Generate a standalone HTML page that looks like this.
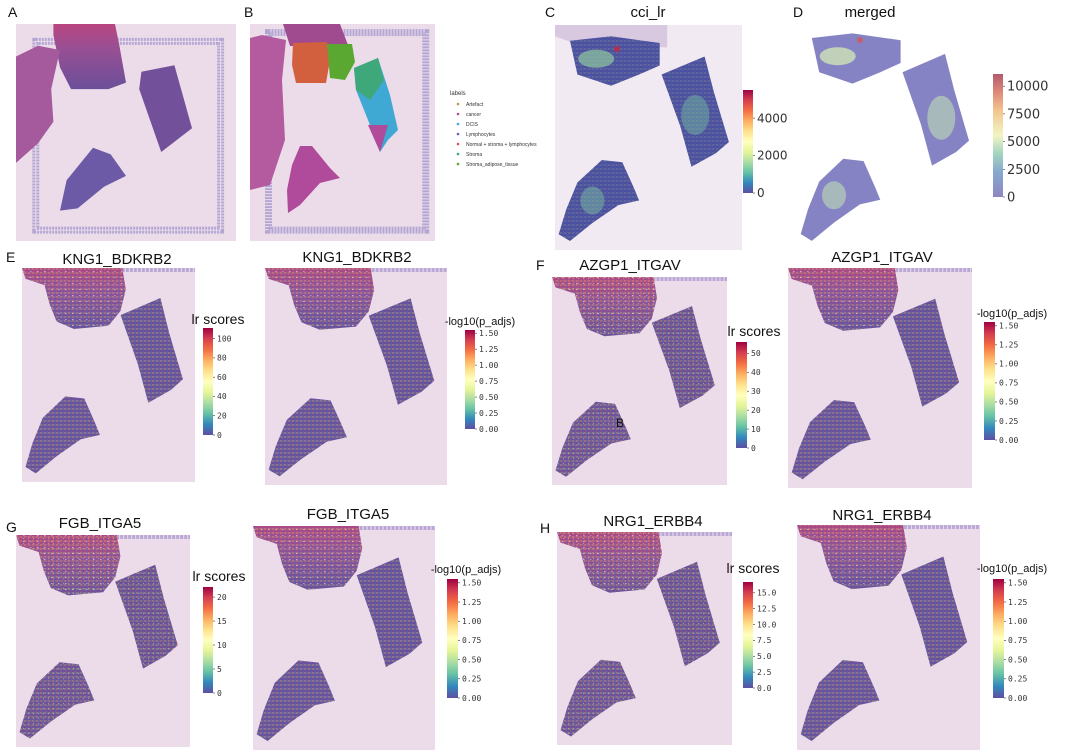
<!DOCTYPE html>
<html><head><meta charset="utf-8"><style>
html,body{margin:0;padding:0;background:#fff;}
svg{display:block;font-family:"Liberation Sans","DejaVu Sans",sans-serif;}
</style></head><body>
<svg id="fig" width="1065" height="754" viewBox="0 0 1065 754" xmlns="http://www.w3.org/2000/svg">
<defs>
<linearGradient id="spec" x1="0" y1="1" x2="0" y2="0">
<stop offset="0" stop-color="#5e4fa2"/><stop offset="0.1" stop-color="#3288bd"/><stop offset="0.2" stop-color="#66c2a5"/><stop offset="0.3" stop-color="#abdda4"/><stop offset="0.4" stop-color="#e6f598"/><stop offset="0.5" stop-color="#ffffbf"/><stop offset="0.6" stop-color="#fee08b"/><stop offset="0.7" stop-color="#fdae61"/><stop offset="0.8" stop-color="#f46d43"/><stop offset="0.9" stop-color="#d53e4f"/><stop offset="1" stop-color="#9e0142"/>
</linearGradient>
<linearGradient id="specL" x1="0" y1="1" x2="0" y2="0">
<stop offset="0" stop-color="#8f86c0"/><stop offset="0.2" stop-color="#86a8d0"/><stop offset="0.35" stop-color="#a3d3c0"/><stop offset="0.5" stop-color="#f2f5c4"/><stop offset="0.7" stop-color="#f3c68f"/><stop offset="0.85" stop-color="#e08a7a"/><stop offset="1" stop-color="#b2596c"/>
</linearGradient>
<linearGradient id="topg" x1="0" y1="0" x2="0" y2="1">
<stop offset="0" stop-color="#b8457f"/><stop offset="0.35" stop-color="#9a4f93"/><stop offset="1" stop-color="#6b4f9a"/>
</linearGradient>
<pattern id="spots" width="4" height="4" patternUnits="userSpaceOnUse">
<circle cx="1" cy="1" r="0.7" fill="#e9e07a"/><circle cx="3" cy="3" r="0.8" fill="#5b63b0"/><circle cx="3" cy="1" r="0.6" fill="#66b7a8"/>
</pattern>
<pattern id="spotsR" width="5" height="5" patternUnits="userSpaceOnUse">
<circle cx="1" cy="1" r="0.7" fill="#e0503f"/><circle cx="3.5" cy="3.5" r="0.7" fill="#f0d070"/>
</pattern>
<pattern id="whiteSpeck" width="7" height="6" patternUnits="userSpaceOnUse">
<rect x="2" y="1" width="1.5" height="1" fill="#f4eef6"/>
</pattern>
</defs>
<g id="root"></g>
</svg>
<script>
// ---- colorbar data ----
var cTicks = [0, 2000, 4000];
var cMax = 5500;
var dTicks = [0, 2500, 5000, 7500, 10000];
var dMax = 11100;
var eTicks = [0, 20, 40, 60, 80, 100];
var eMax = 111;
var fTicks = [0, 10, 20, 30, 40, 50];
var fMax = 56;
var gTicks = [0, 5, 10, 15, 20];
var gMax = 22.1;
var hTicks = [0, 2.5, 5.0, 7.5, 10.0, 12.5, 15.0];
var hMax = 16.7;
var pTicks = [0, 0.25, 0.5, 0.75, 1.0, 1.25, 1.5];
var pMax = 1.55;
var legendLabels = ["Artefact","cancer","DCIS","Lymphocytes","Normal + stroma + lymphocytes","Stroma","Stroma_adipose_tissue"];
var legendColors = ["#c49a3a","#b04a9a","#3fa9d4","#6a5fb0","#d9534f","#3fa87a","#5aa832"];

var NS = "http://www.w3.org/2000/svg";
var root = document.getElementById("root");
function el(tag, attrs, parent, text){
  var e = document.createElementNS(NS, tag);
  for (var k in attrs) e.setAttribute(k, attrs[k]);
  if (text !== undefined) e.textContent = text;
  (parent || root).appendChild(e);
  return e;
}
function pts(shape, x, y, w, h){
  return shape.map(function(p){return (x+p[0]*w).toFixed(1)+","+(y+p[1]*h).toFixed(1);}).join(" ");
}
var cropTop = [[0.0,0],[0.58,0],[0.6,0.1],[0.57,0.2],[0.5,0.27],[0.3,0.285],[0.2,0.25],[0.16,0.17],[0.13,0.08],[0.02,0.05]];
var cropRight = [[0.57,0.22],[0.8,0.14],[0.85,0.3],[0.93,0.52],[0.86,0.57],[0.73,0.63],[0.67,0.45]];
var cropBottom = [[0.25,0.6],[0.36,0.61],[0.42,0.72],[0.45,0.78],[0.34,0.8],[0.2,0.88],[0.08,0.96],[0.02,0.93],[0.06,0.82],[0.12,0.7]];
var spotTop = [[0.08,0.07],[0.3,0.05],[0.56,0.08],[0.56,0.18],[0.45,0.22],[0.3,0.27],[0.12,0.22]];

function tissuePanel(name, x, y, w, h, overlay){
  var g = el("g", {});
  
  
  el("rect", {x:x, y:y, width:w, height:h, fill:"#ecdcea"}, g);
  el("line", {x1:x+0.3*w, y1:y+2, x2:x+w, y2:y+2, stroke:"#b9a8d6", "stroke-width":4, "stroke-dasharray":"3 1"}, g);
  el("polygon", {points:pts(cropTop,x,y,w,h), fill:"url(#topg)"}, g);
  el("polygon", {points:pts(cropRight,x,y,w,h), fill:"#6a4f98"}, g);
  el("polygon", {points:pts(cropBottom,x,y,w,h), fill:"#6d5099"}, g);
  el("polygon", {points:pts(cropTop,x,y,w,h), fill:"url(#whiteSpeck)", opacity:0.6}, g);
  [cropTop,cropRight,cropBottom].forEach(function(s){
    el("polygon", {points:pts(s,x,y,w,h), fill:"url(#spots)", opacity:0.6}, g);
    if (overlay) el("polygon", {points:pts(s,x,y,w,h), fill:"url(#spotsR)", opacity:0.45}, g);
  });
  return g;
}
function colorbar(name, x, top, bottom, w, ticks, max, fs, grad){
  var g = el("g", {});
  
  
  el("rect", {x:x, y:top, width:w, height:bottom-top, fill:"url(#"+(grad||"spec")+")"}, g);
  ticks.forEach(function(t){
    var yy = bottom - (t/max)*(bottom-top);
    el("line", {x1:x+w, y1:yy, x2:x+w+2, y2:yy, stroke:"#333", "stroke-width":0.6}, g);
    var lab = (max < 2) ? t.toFixed(2) : (ticks.some(function(v){return v%1!==0;}) ? t.toFixed(1) : String(t));
    var tx = el("text", {x:x+w+4, y:yy+fs*0.35, "font-size":fs, fill:"#333", "font-family":(fs<11?"'DejaVu Sans Mono','Liberation Mono',monospace":"'DejaVu Sans','Liberation Sans',sans-serif")}, g, lab);
    
    
  });
  return g;
}
function text(name, x, y, s, fs, anchor){
  var t = el("text", {x:x, y:y, "font-size":fs, fill:"#111", "text-anchor":anchor||"start"}, root, s);
  
  
  return t;
}

// ---- Panel A ----
(function(){
  var x=16,y=24,w=220,h=217;
  var g = el("g", {});
  
  
  el("rect", {x:x,y:y,width:w,height:h,fill:"#ecdcea"}, g);
  el("rect", {x:x+0.09*w,y:y+0.08*h,width:0.84*w,height:0.87*h,fill:"none",stroke:"#b3a6d3","stroke-width":7,"stroke-dasharray":"2 1"}, g);
  el("rect", {x:x+0.09*w,y:y+0.08*h,width:0.84*w,height:0.87*h,fill:"none",stroke:"#ecdcea","stroke-width":1}, g);
  el("polygon",{points:pts([[0.17,0],[0.45,0],[0.47,0.1],[0.5,0.27],[0.42,0.3],[0.25,0.3],[0.2,0.2],[0.17,0.05]],x,y,w,h),fill:"url(#topg)"},g);
  el("polygon",{points:pts([[0.57,0.22],[0.72,0.19],[0.8,0.48],[0.66,0.59],[0.56,0.3]],x,y,w,h),fill:"#72509a"},g);
  el("polygon",{points:pts([[0.35,0.57],[0.43,0.6],[0.5,0.7],[0.4,0.75],[0.28,0.85],[0.2,0.86],[0.23,0.72]],x,y,w,h),fill:"#6c5aa6"},g);
  el("polygon",{points:pts([[0,0.15],[0.1,0.1],[0.2,0.12],[0.16,0.3],[0.17,0.45],[0.1,0.55],[0,0.64]],x,y,w,h),fill:"#a45a9c"},g);
})();
text("panel-label-a", 8, 17, "A", 14);

// ---- Panel B ----
(function(){
  var x=250,y=24,w=185,h=217;
  var g = el("g", {});
  
  
  el("rect", {x:x,y:y,width:w,height:h,fill:"#ecdcea"}, g);
  el("rect", {x:x+0.1*w,y:y+0.04*h,width:0.85*w,height:0.91*h,fill:"none",stroke:"#b3a6d3","stroke-width":7,"stroke-dasharray":"2 1"}, g);
  el("polygon",{points:"250,38 262,35 286,40 282,80 285,140 270,185 250,190",fill:"#b45a9e"},g);
  el("polygon",{points:"283,24 340,24 348,45 290,46",fill:"#a04a90"},g);
  el("polygon",{points:"293,43 327,42 330,60 326,83 296,83 292,65",fill:"#d2603f"},g);
  el("polygon",{points:"327,44 352,44 355,62 345,80 330,78",fill:"#5aa832"},g);
  el("polygon",{points:"354,68 378,58 390,95 398,130 388,140 380,152 368,120 356,90",fill:"#3fa9d4"},g);
  el("polygon",{points:"354,68 378,58 384,80 370,100 356,90",fill:"#3fa87a"},g);
  el("polygon",{points:"368,125 388,125 380,152",fill:"#b04a9a"},g);
  el("polygon",{points:"300,146 312,146 330,168 340,178 320,183 300,205 288,213 287,190 292,165",fill:"#b04a9a"},g);
  var L = el("g", {}, root);
  
  
  el("text",{x:450,y:95,"font-size":6,fill:"#333"},L,"labels");
  legendLabels.forEach(function(lb,i){
    var yy = 104 + i*10;
    var d = el("circle",{cx:458,cy:yy,r:1.3,fill:legendColors[i]},L);
    
    
    var t = el("text",{x:466,y:yy+1.8,"font-size":5,fill:"#333"},L,lb);
    
    
  });
})();
text("panel-label-b", 244, 17, "B", 14);

// ---- Panel C ----
(function(){
  var x=555,y=25,w=187,h=225;
  var g = el("g", {});
  
  
  el("rect",{x:x,y:y,width:w,height:h,fill:"#f2eaf3"},g);
  el("polygon",{points:pts([[0,0],[0.6,0],[0.6,0.1],[0.1,0.08],[0,0.05]],x,y,w,h),fill:"#d8c8e0"},g);
  [spotTop,cropRight,cropBottom].forEach(function(s){
    el("polygon",{points:pts(s,x,y,w,h),fill:"#4b4f9f"},g);
    el("polygon",{points:pts(s,x,y,w,h),fill:"url(#spots)",opacity:0.35},g);
  });
  el("ellipse",{cx:x+0.22*w,cy:y+0.15*h,rx:18,ry:9,fill:"#8fc8a0",opacity:0.7},g);
  el("ellipse",{cx:x+0.75*w,cy:y+0.4*h,rx:14,ry:20,fill:"#6fb5a0",opacity:0.5},g);
  el("ellipse",{cx:x+0.2*w,cy:y+0.78*h,rx:12,ry:14,fill:"#78bba0",opacity:0.5},g);
  el("circle",{cx:617,cy:49,r:3,fill:"#b03050"},g);
})();
colorbar("colorbar-c", 743, 90, 193, 10, cTicks, cMax, 12);
text("panel-label-c", 545, 17, "C", 14);
text("title-c", 648, 17, "cci_lr", 15, "middle");

// ---- Panel D ----
(function(){
  var x=797,y=22,w=185,h=228;
  var g = el("g", {});
  
  
  [spotTop,cropRight,cropBottom].forEach(function(s){
    el("polygon",{points:pts(s,x,y,w,h),fill:"#8583c3"},g);
  });
  el("ellipse",{cx:x+0.22*w,cy:y+0.15*h,rx:18,ry:9,fill:"#cfe3b6",opacity:0.8},g);
  el("ellipse",{cx:x+0.78*w,cy:y+0.42*h,rx:14,ry:22,fill:"#bfddb5",opacity:0.6},g);
  el("ellipse",{cx:x+0.2*w,cy:y+0.76*h,rx:12,ry:14,fill:"#bfddb5",opacity:0.6},g);
  el("circle",{cx:860,cy:40,r:3,fill:"#c06070"},g);
})();
colorbar("colorbar-d", 993, 74, 197, 10, dTicks, dMax, 13, "specL");
text("panel-label-d", 793, 17, "D", 14);
text("title-d", 870, 17, "merged", 15, "middle");

// ---- Rows E-H ----
tissuePanel("panel-e-lr-scores", 22, 268, 173, 214, false);
tissuePanel("panel-e-pvalues", 265, 268, 182, 217, false);
tissuePanel("panel-f-lr-scores", 552, 277, 175, 208, true);
tissuePanel("panel-f-pvalues", 788, 268, 184, 220, false);
tissuePanel("panel-g-lr-scores", 16, 535, 174, 212, true);
tissuePanel("panel-g-pvalues", 253, 526, 182, 224, false);
tissuePanel("panel-h-lr-scores", 557, 532, 175, 213, true);
tissuePanel("panel-h-pvalues", 797, 525, 183, 225, false);

colorbar("colorbar-e-lr", 203, 328, 435, 10, eTicks, eMax, 8);
colorbar("colorbar-e-p", 465, 330, 429, 10, pTicks, pMax, 8);
colorbar("colorbar-f-lr", 736, 342, 448, 11, fTicks, fMax, 8);
colorbar("colorbar-f-p", 984, 322, 440, 11, pTicks, pMax, 8);
colorbar("colorbar-g-lr", 203, 587, 693, 10, gTicks, gMax, 8);
colorbar("colorbar-g-p", 447, 579, 698, 11, pTicks, pMax, 8);
colorbar("colorbar-h-lr", 743, 582, 688, 10, hTicks, hMax, 8);
colorbar("colorbar-h-p", 993, 579, 698, 11, pTicks, pMax, 8);

text("panel-label-e", 6, 262, "E", 14);
text("panel-label-f", 536, 270, "F", 14);
text("panel-label-g", 6, 532, "G", 14);
text("panel-label-h", 540, 533, "H", 14);

text("title-e-lr", 117, 264, "KNG1_BDKRB2", 15, "middle");
text("title-e-p", 357, 262, "KNG1_BDKRB2", 15, "middle");
text("title-f-lr", 630, 270, "AZGP1_ITGAV", 15, "middle");
text("title-f-p", 882, 262, "AZGP1_ITGAV", 15, "middle");
text("title-g-lr", 100, 528, "FGB_ITGA5", 15, "middle");
text("title-g-p", 348, 519, "FGB_ITGA5", 15, "middle");
text("title-h-lr", 653, 526, "NRG1_ERBB4", 15, "middle");
text("title-h-p", 882, 520, "NRG1_ERBB4", 15, "middle");

text("cbar-label-e-lr", 218, 324, "lr scores", 14, "middle");
text("cbar-label-e-p", 480, 325, "-log10(p_adjs)", 11, "middle");
text("cbar-label-f-lr", 754, 336, "lr scores", 14, "middle");
text("cbar-label-f-p", 1012, 317, "-log10(p_adjs)", 11, "middle");
text("cbar-label-g-lr", 219, 581, "lr scores", 14, "middle");
text("cbar-label-g-p", 466, 573, "-log10(p_adjs)", 11, "middle");
text("cbar-label-h-lr", 753, 573, "lr scores", 14, "middle");
text("cbar-label-h-p", 1012, 572, "-log10(p_adjs)", 11, "middle");
text("stray-b-label", 620, 427, "B", 12, "middle");
</script>
</body></html>
